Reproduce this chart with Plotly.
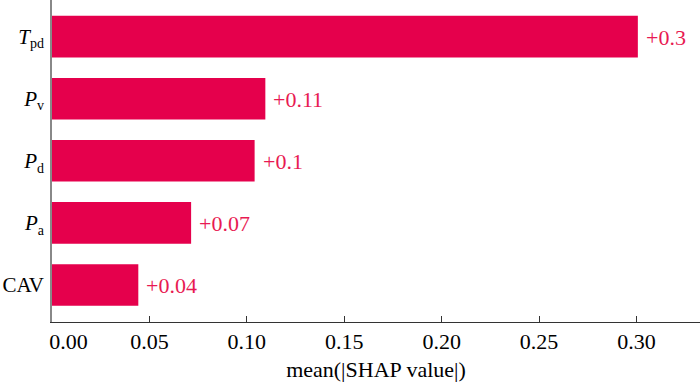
"""SHAP feature importance - mean(|SHAP value|) bar chart."""

import plotly.graph_objects as go

# Data (bottom to top)
SUB = "<sub><span style='font-size:14px'>{}</span></sub>"
features = ["CAV", "<i>P</i>" + SUB.format("a"), "<i>P</i>" + SUB.format("d"),
            "<i>P</i>" + SUB.format("v"), "<i>T</i>" + SUB.format("pd")]
mean_shap = [0.0443, 0.0714, 0.104, 0.1095, 0.3007]
value_labels = ["+0.04", "+0.07", "+0.1", "+0.11", "+0.3"]

tick_vals = [0.0, 0.05, 0.10, 0.15, 0.20, 0.25, 0.30]
tick_text = ["\u00a0" * 6 + "0.00", "0.05", "0.10", "0.15", "0.20", "0.25",
             "0.30"]

BAR_COLOR = "#E5004C"
TEXT_COLOR = "#E81A52"
FONT = "Liberation Serif, Times New Roman, serif"

fig = go.Figure()

fig.add_trace(go.Bar(
    x=mean_shap,
    y=list(range(len(features))),
    orientation="h",
    width=0.67,
    marker={"color": BAR_COLOR, "line": {"width": 0}},
    hoverinfo="skip"
))

# Value labels right of each bar
for i, (v, lab) in enumerate(zip(mean_shap, value_labels)):
    fig.add_annotation(
        x=v, y=i, text=lab, showarrow=False,
        xanchor="left", yanchor="middle", xshift=6, yshift=-1,
        font={"family": FONT, "size": 22, "color": TEXT_COLOR}
    )

fig.update_layout(
    width=700,
    height=382,
    margin={"l": 52, "r": 0, "t": 0, "b": 60},
    plot_bgcolor="white",
    paper_bgcolor="white",
    showlegend=False,
    font={"family": FONT, "size": 22, "color": "black"},
    xaxis={
        "range": [0, 0.3326],
        "automargin": False,
        "tickvals": tick_vals,
        "ticktext": tick_text,
        "ticks": "inside",
        "ticklen": 6,
        "tickcolor": "#333333",
        "showline": True,
        "linecolor": "#333333",
        "linewidth": 1,
        "showgrid": False,
        "zeroline": False,
        "tickfont": {"size": 22},
        "title": {"text": "mean(|SHAP value|)", "font": {"size": 22},
                  "standoff": 9},
    },
    yaxis={
        "range": [-0.596, 4.589],
        "automargin": False,
        "tickvals": list(range(len(features))),
        "ticktext": features,
        "showline": True,
        "linecolor": "#888888",
        "linewidth": 1.5,
        "showgrid": False,
        "zeroline": False,
        "ticks": "",
        "ticklabelstandoff": 2,
        "tickfont": {"size": 21},
    },
)

# drop the default 8px body margin so the figure fills the window
fig.write_html("out.html", config={"displayModeBar": False},
               post_script="document.body.style.margin = '0';")
